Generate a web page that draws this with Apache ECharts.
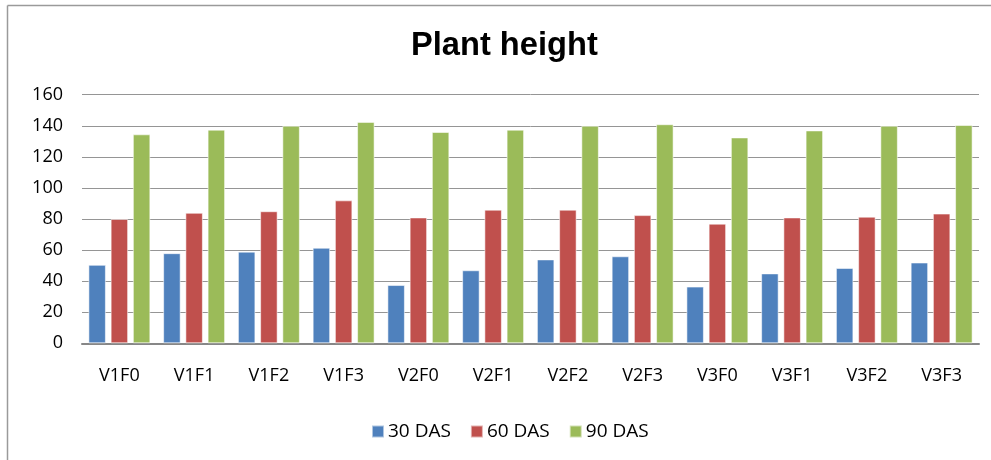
<!DOCTYPE html>
<html>
<head>
<meta charset="utf-8">
<script src="https://cdn.jsdelivr.net/npm/echarts@6/dist/echarts.min.js"></script>
<style>html,body{margin:0;padding:0;background:#fff;}#c{width:991px;height:460px;}</style>
</head>
<body>
<div id="c"></div>
<script>
const categories = ['V1F0','V1F1','V1F2','V1F3','V2F0','V2F1','V2F2','V2F3','V3F0','V3F1','V3F2','V3F3'];
const das30 = [50.5, 58, 59, 61.5, 37.5, 47, 54, 56, 36.5, 45, 48.5, 52];
const das60 = [80, 84, 85, 92, 81, 86, 86, 82.5, 77, 81, 81.5, 83.5];
const das90 = [134.5, 137.5, 140, 142.5, 136, 137.5, 140, 141, 132.5, 137, 140, 140.5];
const seriesNames = ['30 DAS', '60 DAS', '90 DAS'];
const yTicks = {min: 0, max: 160, interval: 20};
const titleText = 'Plant height';

const font = "'Open Sans', 'Noto Sans', sans-serif";
const chart = echarts.init(document.getElementById('c'), null, {renderer: 'canvas'});
const barStyle = (color) => ({
  type: 'bar', barWidth: 17.5, barGap: '27%',
  itemStyle: {color: color, borderColor: 'rgba(255,255,255,0.55)', borderWidth: 1},
  emphasis: {disabled: true}
});
chart.setOption({
  animation: false,
  backgroundColor: '#fff',
  graphic: [
    {type: 'line', shape: {x1: 7.5, y1: 5.5, x2: 991, y2: 5.5}, style: {stroke: '#9a9a9a', lineWidth: 1.5}},
    {type: 'line', shape: {x1: 7.5, y1: 5.5, x2: 7.5, y2: 460}, style: {stroke: '#9a9a9a', lineWidth: 1.5}},
    {type: 'text', x: 411, y: 29, scaleX: 0.96, originX: 0,
     style: {text: titleText, fontFamily: "'Liberation Sans', Arial, sans-serif", fontWeight: 'bold', fontSize: 34, fill: '#000', verticalAlign: 'top', align: 'left'}}
  ],
  legend: {
    bottom: 14, left: 366, itemWidth: 12, itemHeight: 12, itemGap: 19,
    icon: 'rect',
    textStyle: {fontFamily: font, fontSize: 19, color: '#000', padding: [0,0,0,-1]},
    data: seriesNames
  },
  grid: {left: 82, right: 12, top: 94.7, bottom: 116.7, containLabel: false},
  xAxis: {
    type: 'category', data: categories,
    axisLine: {lineStyle: {color: '#878787', width: 2}},
    axisTick: {show: false},
    axisLabel: {fontFamily: font, fontSize: 18, color: '#000', margin: 24}
  },
  yAxis: {
    type: 'value', min: yTicks.min, max: yTicks.max, interval: yTicks.interval,
    axisLine: {show: false}, axisTick: {show: false},
    splitLine: {lineStyle: {color: '#959595', width: 1}},
    axisLabel: {fontFamily: font, fontSize: 18, color: '#000', margin: 19}
  },
  series: [
    Object.assign({name: seriesNames[0], data: das30}, barStyle('#4F81BD')),
    Object.assign({name: seriesNames[1], data: das60}, barStyle('#C0504D')),
    Object.assign({name: seriesNames[2], data: das90}, barStyle('#9BBB59'))
  ]
});
</script>
</body>
</html>
